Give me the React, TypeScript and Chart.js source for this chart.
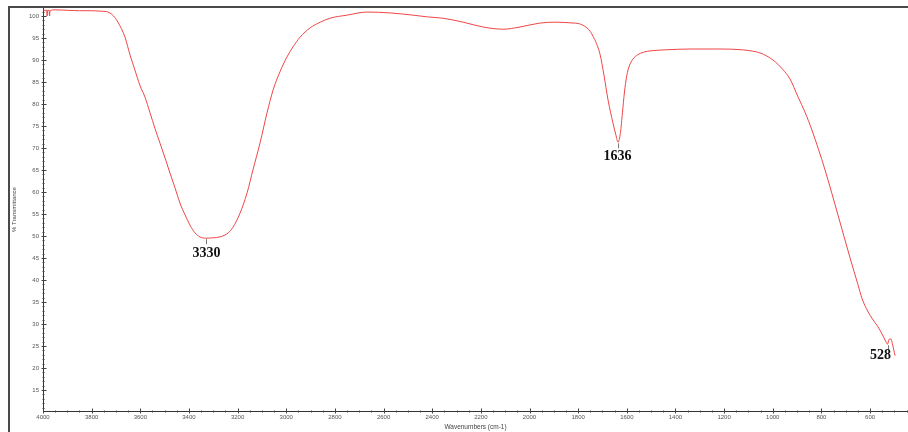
import { useEffect, useRef } from 'react';
import { Chart, registerables } from 'chart.js';

Chart.register(...registerables);

const wavenumbers = [
  4000, 3996, 3985, 3983, 3981, 3975, 3973, 3971, 3950, 3900, 3850, 3800, 3766, 3740, 3725, 3710,
  3692, 3663, 3642, 3622, 3602, 3581, 3560, 3540, 3519, 3498, 3478, 3457, 3437, 3416, 3396, 3375,
  3355, 3330, 3300, 3272, 3239, 3219, 3190, 3161, 3137, 3108, 3079, 3054, 3026, 2997, 2972, 2943,
  2902, 2860, 2820, 2750, 2668, 2573, 2479, 2420, 2356, 2273, 2191, 2109, 2039, 1957, 1887, 1821,
  1800, 1780, 1764, 1750, 1739, 1725, 1710, 1694, 1677, 1657, 1645, 1636, 1626, 1618, 1610, 1600,
  1590, 1575, 1555, 1530, 1500, 1443, 1340, 1217, 1120, 1093, 1052, 999, 958, 929, 896, 868,
  839, 785, 732, 682, 650, 633, 615, 600, 559, 534, 528, 522, 514, 508, 500, 497,
];

const transmittance = [
  101.4, 101.3, 101.3, 100.0, 101.3, 101.3, 100.0, 101.2, 101.4, 101.3, 101.2, 101.2, 101.1, 101.0, 100.7, 100.0,
  98.6, 95.2, 91.1, 87.7, 84.3, 81.6, 78.0, 74.5, 71.1, 67.7, 64.3, 60.9, 57.5, 54.8, 52.5, 50.7,
  49.8, 49.5, 49.6, 49.8, 50.7, 52.0, 55.2, 59.8, 65.0, 71.1, 78.0, 83.2, 87.3, 90.7, 93.0, 95.2,
  97.3, 98.6, 99.5, 100.2, 100.9, 100.7, 100.2, 99.8, 99.5, 98.6, 97.5, 97.0, 97.5, 98.4, 98.6, 98.4,
  98.3, 97.9, 97.3, 96.5, 95.4, 93.8, 91.3, 86.6, 80.9, 75.7, 73.0, 71.3, 73.5, 78.0, 82.5, 86.5,
  88.6, 90.2, 91.2, 91.8, 92.1, 92.3, 92.5, 92.5, 92.3, 92.1, 91.6, 90.0, 87.8, 85.7, 81.6, 78.2,
  74.1, 65.0, 54.8, 45.0, 39.0, 35.8, 33.5, 32.0, 28.6, 25.9, 25.4, 26.5, 26.6, 25.5, 23.5, 22.8,
];

const xTickValues = [4000, 3800, 3600, 3400, 3200, 3000, 2800, 2600, 2400, 2200, 2000, 1800, 1600, 1400, 1200, 1000, 800, 600];
const yTickValues = [15, 20, 25, 30, 35, 40, 45, 50, 55, 60, 65, 70, 75, 80, 85, 90, 95, 100];

const peakLabels = ['3330', '1636', '528'];
const peakWavenumbers = [3330, 1636, 528];
const peakTransmittance = [49.5, 71.3, 25.4];

const xTitle = 'Wavenumbers (cm-1)';
const yTitle = '% Transmittance';

// style-only offsets for the peak labels (pixels)
const peakLabelDx = [0, -1, -8];
const peakLabelDy = [15, 14, 11];

const SANS = '"Liberation Sans", Arial, sans-serif';
const SERIF = '"Liberation Serif", "Times New Roman", serif';

const ticksPlugin = {
  id: 'ftirTicks',
  afterDraw(chart: any) {
    const { ctx, chartArea, scales } = chart;
    const x = scales.x;
    const y = scales.y;
    ctx.save();
    ctx.strokeStyle = '#444';
    ctx.lineWidth = 1;
    ctx.beginPath();
    const ax = Math.round(chartArea.left) + 0.5;
    for (let v = Math.ceil(y.min); v <= Math.floor(y.max); v += 1) {
      const py = Math.round(y.getPixelForValue(v)) + 0.5;
      const major = v % 5 === 0;
      ctx.moveTo(ax - (major ? 2 : 1), py);
      ctx.lineTo(ax + (major ? 3 : 1), py);
    }
    const ay = Math.round(chartArea.bottom) + 0.5;
    for (let v = Math.ceil(x.min / 50) * 50; v <= x.max; v += 50) {
      const px = Math.round(x.getPixelForValue(v)) + 0.5;
      const major = v % 200 === 0;
      ctx.moveTo(px, ay - (major ? 3 : 1));
      ctx.lineTo(px, ay + (major ? 2 : 1));
    }
    ctx.stroke();
    ctx.restore();
  },
};

const peaksPlugin = {
  id: 'ftirPeaks',
  afterDatasetsDraw(chart: any) {
    const { ctx, scales } = chart;
    const x = scales.x;
    const y = scales.y;
    ctx.save();
    peakLabels.forEach((label, i) => {
      const px = Math.round(x.getPixelForValue(peakWavenumbers[i])) + 0.5;
      const py = y.getPixelForValue(peakTransmittance[i]);
      ctx.strokeStyle = '#777';
      ctx.lineWidth = 1;
      ctx.beginPath();
      ctx.moveTo(px, py + 1);
      ctx.lineTo(px, py + 6);
      ctx.stroke();
      ctx.fillStyle = '#111';
      ctx.font = `bold 14px ${SERIF}`;
      ctx.textAlign = 'center';
      ctx.textBaseline = 'middle';
      ctx.fillText(label, px + peakLabelDx[i], py + peakLabelDy[i]);
    });
    ctx.restore();
  },
};

export default function App() {
  const canvasRef = useRef<HTMLCanvasElement | null>(null);

  useEffect(() => {
    if (!canvasRef.current) return;
    const points = wavenumbers.map((w, i) => ({ x: w, y: transmittance[i] }));
    const chart = new Chart(canvasRef.current, {
      type: 'line',
      data: {
        datasets: [
          {
            data: points,
            borderColor: 'rgb(238, 70, 70)',
            borderWidth: 1,
            pointRadius: 0,
            fill: false,
            cubicInterpolationMode: 'monotone',
          },
        ],
      },
      options: {
        responsive: false,
        animation: false,
        layout: { padding: 0 },
        plugins: { legend: { display: false }, tooltip: { enabled: false } },
        scales: {
          x: {
            type: 'linear',
            reverse: true,
            min: 444,
            max: 4000,
            border: { display: true, color: '#333', width: 1 },
            grid: { display: true, drawOnChartArea: false, drawTicks: false, color: 'rgba(0,0,0,0)' },
            afterBuildTicks: (scale: any) => {
              scale.ticks = xTickValues.map((v) => ({ value: v }));
            },
            afterFit: (scale: any) => {
              scale.height = 21;
              scale.paddingLeft = 0;
              scale.paddingRight = 0;
            },
            ticks: {
              autoSkip: false,
              maxRotation: 0,
              padding: 3,
              color: '#555',
              font: { family: SANS, size: 6 },
              callback: (v: any) => String(v),
            },
            title: {
              display: true,
              text: xTitle,
              color: '#444',
              font: { family: SANS, size: 6.5 },
              padding: { top: 1, bottom: 1 },
            },
          },
          y: {
            type: 'linear',
            min: 10.23,
            max: 101.82,
            border: { display: true, color: '#333', width: 1 },
            grid: { display: true, drawOnChartArea: false, drawTicks: false, color: 'rgba(0,0,0,0)' },
            afterBuildTicks: (scale: any) => {
              scale.ticks = yTickValues.map((v) => ({ value: v }));
            },
            afterFit: (scale: any) => {
              scale.width = 33;
              scale.paddingTop = 0;
              scale.paddingBottom = 0;
            },
            ticks: {
              autoSkip: false,
              padding: 4,
              color: '#555',
              font: { family: SANS, size: 6 },
              callback: (v: any) => String(v),
            },
            title: {
              display: true,
              text: yTitle,
              color: '#444',
              font: { family: SANS, size: 6 },
              padding: { top: 0.5, bottom: 0 },
            },
          },
        },
      },
      plugins: [ticksPlugin, peaksPlugin],
    });
    return () => chart.destroy();
  }, []);

  return (
    <div
      style={{
        position: 'absolute',
        left: 8,
        top: 6,
        width: 900,
        height: 426,
        borderLeft: '2px solid #4a4a4a',
        borderTop: '2px solid #4a4a4a',
        boxSizing: 'border-box',
        background: '#fff',
      }}
    >
      <canvas ref={canvasRef} width={898} height={424} style={{ display: 'block' }} />
    </div>
  );
}
